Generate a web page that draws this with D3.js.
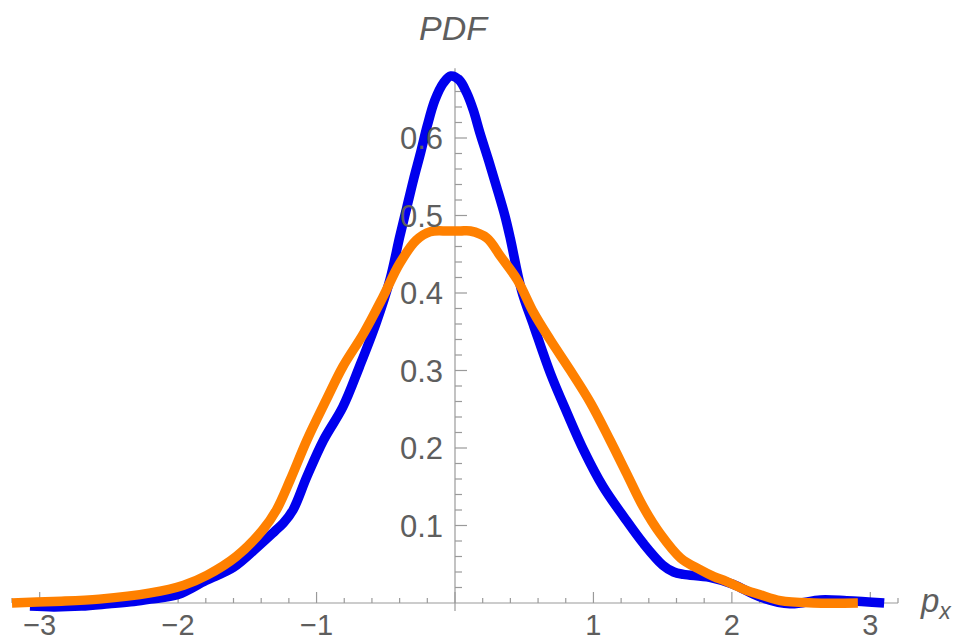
<!DOCTYPE html>
<html>
<head>
<meta charset="utf-8">
<script src="https://cdn.jsdelivr.net/npm/d3@7"></script>
<style>
	body { margin: 0; background: #fff; }
	svg { display: block; }
	.tick_label { font-family: 'Liberation Sans', Arial, sans-serif; fill: #5e5e5e; }
</style>
</head>
<body>
<svg id="chart_svg"></svg>
<script>

var w = 964;
var h = 642;

// blue curve
var blue_x = [-3.07, -2.9, -2.7, -2.5, -2.32, -2.2, -2.0, -1.8, -1.6, -1.41, -1.3, -1.24, -1.17, -1.07,
	-0.95, -0.81, -0.69, -0.57, -0.47, -0.4, -0.35, -0.3, -0.25, -0.2, -0.145, -0.084, -0.03, 0.03, 0.085,
	0.132, 0.181, 0.241, 0.3, 0.36, 0.4, 0.48, 0.57, 0.69, 0.81, 0.93, 1.07, 1.22, 1.36, 1.5, 1.58, 1.65,
	1.84, 2.01, 2.2, 2.42, 2.64, 2.83, 3.1];
var blue_y = [-0.004, -0.005, -0.004, -0.001, 0.002, 0.005, 0.011, 0.029, 0.046, 0.075, 0.093, 0.103, 0.12, 0.163,
	0.21, 0.253, 0.305, 0.361, 0.417, 0.472, 0.509, 0.546, 0.58, 0.616, 0.649, 0.671, 0.68, 0.675, 0.658,
	0.636, 0.606, 0.572, 0.537, 0.5, 0.47, 0.404, 0.357, 0.296, 0.245, 0.197, 0.15, 0.111, 0.077, 0.049, 0.04, 0.037,
	0.033, 0.024, 0.008, -0.001, 0.004, 0.003, 0.0];

// orange curve
var orange_x = [-3.2, -2.9, -2.57, -2.2, -1.96, -1.79, -1.58, -1.39, -1.29, -1.19, -1.07, -0.93, -0.81, -0.66,
	-0.52, -0.4, -0.28, -0.18, -0.05, 0.04, 0.11, 0.23, 0.33, 0.45, 0.57, 0.69, 0.83, 0.98, 1.12, 1.24,
	1.36, 1.48, 1.63, 1.77, 1.87, 1.96, 2.11, 2.2, 2.35, 2.59, 2.91];
var orange_y = [0.0, 0.002, 0.005, 0.013, 0.023, 0.036, 0.06, 0.094, 0.12, 0.159, 0.21, 0.262, 0.305, 0.348,
	0.395, 0.438, 0.468, 0.479, 0.48, 0.48, 0.48, 0.471, 0.447, 0.417, 0.374, 0.339, 0.301, 0.258, 0.21, 0.167,
	0.124, 0.09, 0.058, 0.043, 0.034, 0.028, 0.016, 0.011, 0.003, 0.0, 0.0];

var x_ticks = [-3, -2, -1, 1, 2, 3];
var y_ticks = [0.1, 0.2, 0.3, 0.4, 0.5, 0.6];

var svg = d3.select('#chart_svg')
	.attr('width', w)
	.attr('height', h);

var x = d3.scaleLinear().domain([-3.2, 3.2]).range([12, 898]);
var y = d3.scaleLinear().domain([0, 0.69]).range([603, 68.25]);

var axis_col = '#9a9a9a';

// x axis, ticks point up
var x_minor = d3.range(-16, 17).map(function(i) { return i * 0.2; });
svg.append('line')
	.attr('x1', x(-3.2)).attr('x2', x(3.2))
	.attr('y1', y(0)).attr('y2', y(0))
	.attr('stroke', axis_col).attr('stroke-width', 1.2);
svg.selectAll('.x_minor')
	.data(x_minor)
	.enter()
	.append('line')
	.attr('class', 'x_minor')
	.attr('x1', d => x(d)).attr('x2', d => x(d))
	.attr('y1', y(0)).attr('y2', function(d) {
		return Math.abs(d - Math.round(d)) < 1e-6 ? y(0) - 11 : y(0) - 5;
	})
	.attr('stroke', axis_col).attr('stroke-width', 1.2);

// y axis, ticks point right
var y_minor = d3.range(1, 35).map(function(i) { return i * 0.02; });
svg.append('line')
	.attr('x1', x(0)).attr('x2', x(0))
	.attr('y1', y(0) + 8).attr('y2', y(0.69))
	.attr('stroke', axis_col).attr('stroke-width', 1.2);
svg.selectAll('.y_minor')
	.data(y_minor)
	.enter()
	.append('line')
	.attr('class', 'y_minor')
	.attr('y1', d => y(d)).attr('y2', d => y(d))
	.attr('x1', x(0)).attr('x2', function(d, i) {
		return (i + 1) % 5 == 0 ? x(0) + 12 : x(0) + 7;
	})
	.attr('stroke', axis_col).attr('stroke-width', 1.2);

var line = d3.line()
	.x(d => x(d[0]))
	.y(d => y(d[1]))
	.curve(d3.curveCatmullRom.alpha(0.5));

svg.append('path')
	.datum(d3.zip(blue_x, blue_y))
	.attr('d', line)
	.attr('fill', 'none')
	.attr('stroke', '#0000ee')
	.attr('stroke-width', 9.5)
	.attr('stroke-linejoin', 'round')
	.attr('stroke-linecap', 'butt');

svg.append('path')
	.datum(d3.zip(orange_x, orange_y))
	.attr('d', line)
	.attr('fill', 'none')
	.attr('stroke', '#ff8000')
	.attr('stroke-width', 9.5)
	.attr('stroke-linejoin', 'round')
	.attr('stroke-linecap', 'butt');

// tick labels (the reference crops these at the bottom edge; kept just inside)
var fmt = d3.format('d');
svg.selectAll('.x_label')
	.data(x_ticks)
	.enter()
	.append('text')
	.attr('class', 'tick_label')
	.attr('x', d => x(d))
	.attr('y', 635)
	.attr('text-anchor', 'middle')
	.style('font-size', '29px')
	.text(d => fmt(d));

svg.selectAll('.y_label')
	.data(y_ticks)
	.enter()
	.append('text')
	.attr('class', 'tick_label')
	.attr('x', x(0) - 12)
	.attr('y', d => y(d) + 11)
	.attr('text-anchor', 'end')
	.style('font-size', '31px')
	.text(d => d3.format('.1f')(d));

// axis labels
svg.append('text')
	.attr('class', 'tick_label')
	.attr('x', 453)
	.attr('y', 40)
	.attr('text-anchor', 'middle')
	.style('font-size', '34px')
	.style('font-style', 'italic')
	.text('PDF');

var px = svg.append('text')
	.attr('class', 'tick_label')
	.attr('x', 921)
	.attr('y', 612)
	.style('font-size', '33px')
	.style('font-style', 'italic');
px.append('tspan').text('p');
px.append('tspan')
	.attr('dy', 7)
	.style('font-size', '23px')
	.text('x');

</script>
</body>
</html>
